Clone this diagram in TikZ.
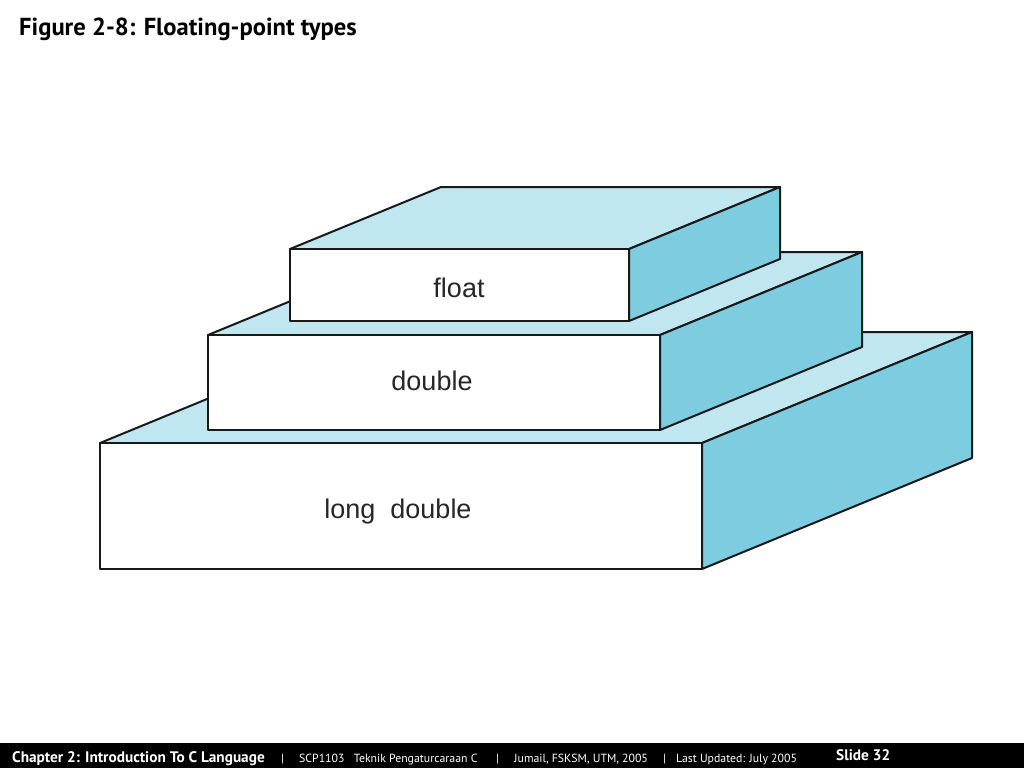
\documentclass[tikz,border=0pt]{standalone}
\usepackage{fontspec}
\setmainfont{Liberation Sans}
\newfontfamily\titlefont{PT Sans}
\definecolor{topblue}{HTML}{C0E6F0}
\definecolor{sideblue}{HTML}{7DCCE0}
\newcommand{\slab}[7]{%
  % #1 name, #2 x1, #3 y1 (front top-left), #4 x2, #5 y2 (front bottom-right), #6 dx, #7 dy
  \filldraw[edge, fill=topblue] (#2,#3) -- ++(#6,#7) -- (#4+#6,#3+#7) -- (#4,#3) -- cycle;
  \filldraw[edge, fill=sideblue] (#4,#3) -- (#4+#6,#3+#7) -- (#4+#6,#5+#7) -- (#4,#5) -- cycle;
  \filldraw[edge, fill=white] (#2,#3) rectangle (#4,#5);
  \coordinate (#1) at ({(#2+#4)/2},{(#3+#5)/2});
}
\begin{document}
\begin{tikzpicture}[x=1pt,y=-1pt,
  edge/.style={draw=black!90, line width=2pt, line join=round},
  label/.style={font=\fontsize{27}{31}\selectfont, text=black!85, inner sep=0pt, anchor=base},
  foot/.style={font=\titlefont\fontsize{11.8}{13}\selectfont, text=white, inner sep=0pt, anchor=base west},
  footb/.style={font=\titlefont\bfseries\fontsize{15.3}{17}\selectfont, text=white, inner sep=0pt, anchor=base west}]
\useasboundingbox (0,0) rectangle (1024,768);
\fill[white] (0,0) rectangle (1024,768);
\node[font=\titlefont\bfseries\fontsize{24.6}{28}\selectfont, anchor=base west, inner sep=0pt] (title) at (19,36) {Figure 2-8: Floating-point types};
\slab{ld}{100}{443}{702}{569}{270}{-111}
\slab{db}{208}{335}{660}{430}{202}{-83}
\slab{fl}{290}{249}{629}{321}{151}{-62}
\node[label] (tfl) at (459,297) {float};
\node[label] (tdb) at (432,390) {double};
\node[label] (tld) at (398,518) {long\ \ double};
\fill[black] (0,743) rectangle (1024,768);
\node[footb] (f1) at (12,762) {Chapter 2: Introduction To C Language};
\node[foot] (s1) at (281,762) {|};
\node[foot] (f2) at (299,762) {SCP1103\ \ \ Teknik Pengaturcaraan C};
\node[foot] (s2) at (496,762) {|};
\node[foot] (f3) at (514,762) {Jumail, FSKSM, UTM, 2005};
\node[foot] (s3) at (663,762) {|};
\node[foot] (f4) at (676,762) {Last Updated: July 2005};
\node[footb] (f5) at (836,760) {Slide 32};
\end{tikzpicture}
\end{document}
